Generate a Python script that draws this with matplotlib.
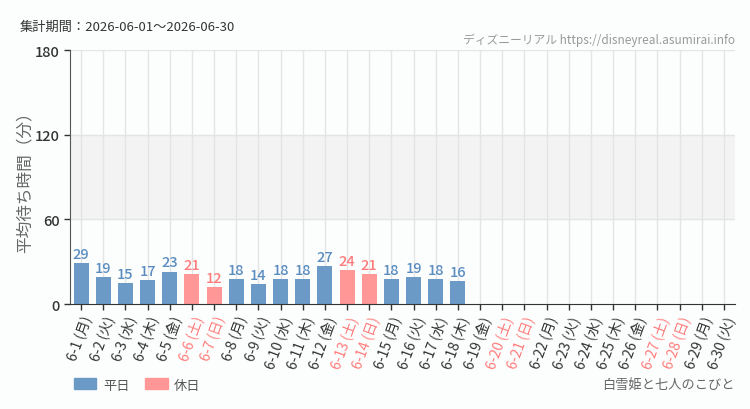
import matplotlib
matplotlib.use("Agg")
import matplotlib.pyplot as plt
from matplotlib.patches import Patch
import numpy as np

plt.rcParams['font.family'] = ['Noto Sans CJK JP', 'DejaVu Sans']

days = [f"6-{d}" for d in range(1, 31)]
weekdays = ["月", "火", "水", "木", "金", "土", "日"] * 5
weekdays = weekdays[:30]
values = [29, 19, 15, 17, 23, 21, 12, 18, 14, 18, 18, 27, 24, 21, 18, 19, 18, 16,
          None, None, None, None, None, None, None, None, None, None, None, None]
holidays = [6, 7, 13, 14, 20, 21, 27, 28]

BLUE = '#6b9ac7'
PINK = '#ff9797'
BLUE_TXT = '#5a8cc0'
PINK_TXT = '#ff7b7b'
BG = '#fcfefd'

fig = plt.figure(figsize=(7.5, 4.1), dpi=100, facecolor=BG)
ax = fig.add_axes([0.0933, 0.256, 0.8867, 0.6196])
ax.set_facecolor(BG)

x = np.arange(len(days))
ax.set_xlim(-0.5, len(days) - 0.5)
ax.set_ylim(0, 180)
ax.axhspan(60, 120, color='#f3f3f3', zorder=0)
for xi in x:
    ax.axvline(xi, color='#e4e4e4', lw=1, zorder=0.5)
for yv in [60, 120, 180]:
    ax.axhline(yv, color='#e4e4e4', lw=1, zorder=0.5)

for i, v in enumerate(values):
    if v is None:
        continue
    hol = (i + 1) in holidays
    ax.bar(i, v, width=0.68, color=PINK if hol else BLUE, zorder=2)
    ax.text(i, v + 1.5, str(v), ha='center', va='bottom', fontsize=10.5,
            fontweight='medium', color=PINK_TXT if hol else BLUE_TXT, zorder=3)

ax.set_yticks([0, 60, 120, 180])
ax.set_yticklabels(['0', '60', '120', '180'], fontsize=10.5, color='#333333',
                   fontweight='medium')
ax.set_xticks(x)
labels = [f"{d} ({w})" for d, w in zip(days, weekdays)]
ax.set_xticklabels(labels, rotation=70, ha='right', va='top', rotation_mode='anchor',
                   fontsize=10)
for i, t in enumerate(ax.get_xticklabels()):
    t.set_color(PINK_TXT if (i + 1) in holidays else '#333333')

ax.tick_params(axis='both', length=4, color='#333333', width=1)
ax.tick_params(axis='x', pad=3)
for s in ['top', 'right']:
    ax.spines[s].set_visible(False)
ax.spines['left'].set_color('#555555')
ax.spines['bottom'].set_color('#333333')
ax.set_ylabel('平均待ち時間（分）', fontsize=12, color='#666666', labelpad=1)

fig.text(20 / 750, 1 - 27 / 410, '集計期間：2026-06-01～2026-06-30', fontsize=9.5,
         color='#333333', va='center', ha='left')
fig.text(735 / 750, 1 - 40 / 410, 'ディズニーリアル https://disneyreal.asumirai.info',
         fontsize=8.5, color='#999999', va='center', ha='right')
fig.text(735 / 750, 1 - 386 / 410, '白雪姫と七人のこびと', fontsize=9.5,
         color='#666666', va='center', ha='right')

handles = [Patch(color=BLUE, label='平日'), Patch(color=PINK, label='休日')]
leg = fig.legend(handles=handles, loc='center left', bbox_to_anchor=(62 / 750, 1 - 386 / 410),
                 ncol=2, frameon=False, fontsize=9.5, handlelength=1.7, handleheight=0.9,
                 columnspacing=1.2, handletextpad=0.5)
for t in leg.get_texts():
    t.set_color('#555555')

fig.savefig('out.png', dpi=100, facecolor=BG)
